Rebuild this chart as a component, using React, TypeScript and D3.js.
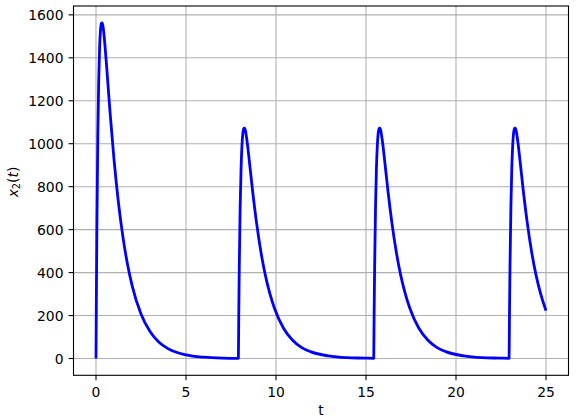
import * as d3 from 'd3';

// pulse onsets (t)
const pulseStarts = [0, 7.91, 15.43, 22.95];
// time after each onset at which values were read
const pulseDt = [0, 0.02, 0.05, 0.1, 0.15, 0.2, 0.25, 0.3, 0.35, 0.4, 0.5, 0.6, 0.7, 0.8, 1.0, 1.25, 1.5, 1.75, 2.0, 2.5, 3.0, 3.5, 4.0, 5.0, 6.0, 7.0];
// x2 values of the first (taller) pulse
const firstPulse = [0, 280, 623, 1031, 1291, 1446, 1529, 1562, 1563, 1540, 1456, 1349, 1236, 1126, 927, 723, 564, 439, 342, 207, 126, 76, 46, 17, 6, 2];
// x2 values of the later pulses
const laterPulse = [1, 192, 428, 708, 886, 993, 1050, 1073, 1073, 1057, 1000, 926, 849, 773, 637, 497, 387, 302, 235, 142, 86, 52, 32, 12, 4, 2];
const tEnd = 25;
const endValue = 223;

const xTicks = [0, 5, 10, 15, 20, 25];
const yTicks = [0, 200, 400, 600, 800, 1000, 1200, 1400, 1600];

const W = 576;
const H = 418;
const left = 73.5;
const right = 568.5;
const top = 6;
const bottom = 375.3;
const font = 'DejaVu Sans, sans-serif';
const fs = 13.9;

export default function App() {
  const points: [number, number][] = [];
  pulseStarts.forEach((s, i) => {
    const vals = i === 0 ? firstPulse : laterPulse;
    pulseDt.forEach((dt, j) => {
      const t = s + dt;
      if (t < tEnd) points.push([t, vals[j]]);
    });
  });
  points.push([tEnd, endValue]);

  const x = d3.scaleLinear().domain([-1.25, 26.25]).range([left, right]);
  const y = d3.scaleLinear().domain([-78.15, 1641.15]).range([bottom, top]);

  const line = d3.line<[number, number]>()
    .x(d => x(d[0]))
    .y(d => y(d[1]))
    .curve(d3.curveMonotoneX);

  return (
    <svg width={W} height={H} style={{ position: 'absolute', left: 0, top: 0 }} fontFamily={font}>
      <rect x={0} y={0} width={W} height={H} fill="#fff" />
      {/* grid */}
      {xTicks.map(t => (
        <line key={'gx' + t} x1={x(t)} x2={x(t)} y1={top} y2={bottom} stroke="#b0b0b0" strokeWidth={1.1} />
      ))}
      {yTicks.map(t => (
        <line key={'gy' + t} x1={left} x2={right} y1={y(t)} y2={y(t)} stroke="#b0b0b0" strokeWidth={1.1} />
      ))}
      {/* curve */}
      <path d={line(points) || ''} fill="none" stroke="#0000ff" strokeWidth={2.8} strokeLinejoin="round" />
      {/* spines */}
      <rect x={left} y={top} width={right - left} height={bottom - top} fill="none" stroke="#000" strokeWidth={1.1} />
      {/* x ticks */}
      {xTicks.map(t => (
        <g key={'xt' + t}>
          <line x1={x(t)} x2={x(t)} y1={bottom} y2={bottom + 4.9} stroke="#000" strokeWidth={1.1} />
          <text x={x(t)} y={396.5} fontSize={fs} textAnchor="middle" fill="#000">{t}</text>
        </g>
      ))}
      {/* y ticks */}
      {yTicks.map(t => (
        <g key={'yt' + t}>
          <line x1={left - 4.9} x2={left} y1={y(t)} y2={y(t)} stroke="#000" strokeWidth={1.1} />
          <text x={63.5} y={y(t) + 5} fontSize={fs} textAnchor="end" fill="#000">{t}</text>
        </g>
      ))}
      <text x={(left + right) / 2} y={414.5} fontSize={fs} textAnchor="middle" fill="#000">t</text>
      <text transform="translate(17.5,182) rotate(-90)" fontSize={fs} textAnchor="middle" fill="#000">
        <tspan fontStyle="italic">x</tspan>
        <tspan fontSize={fs * 0.7} dy={2.5}>2</tspan>
        <tspan dy={-2.5}>(</tspan>
        <tspan fontStyle="italic">t</tspan>
        <tspan>)</tspan>
      </text>
    </svg>
  );
}
